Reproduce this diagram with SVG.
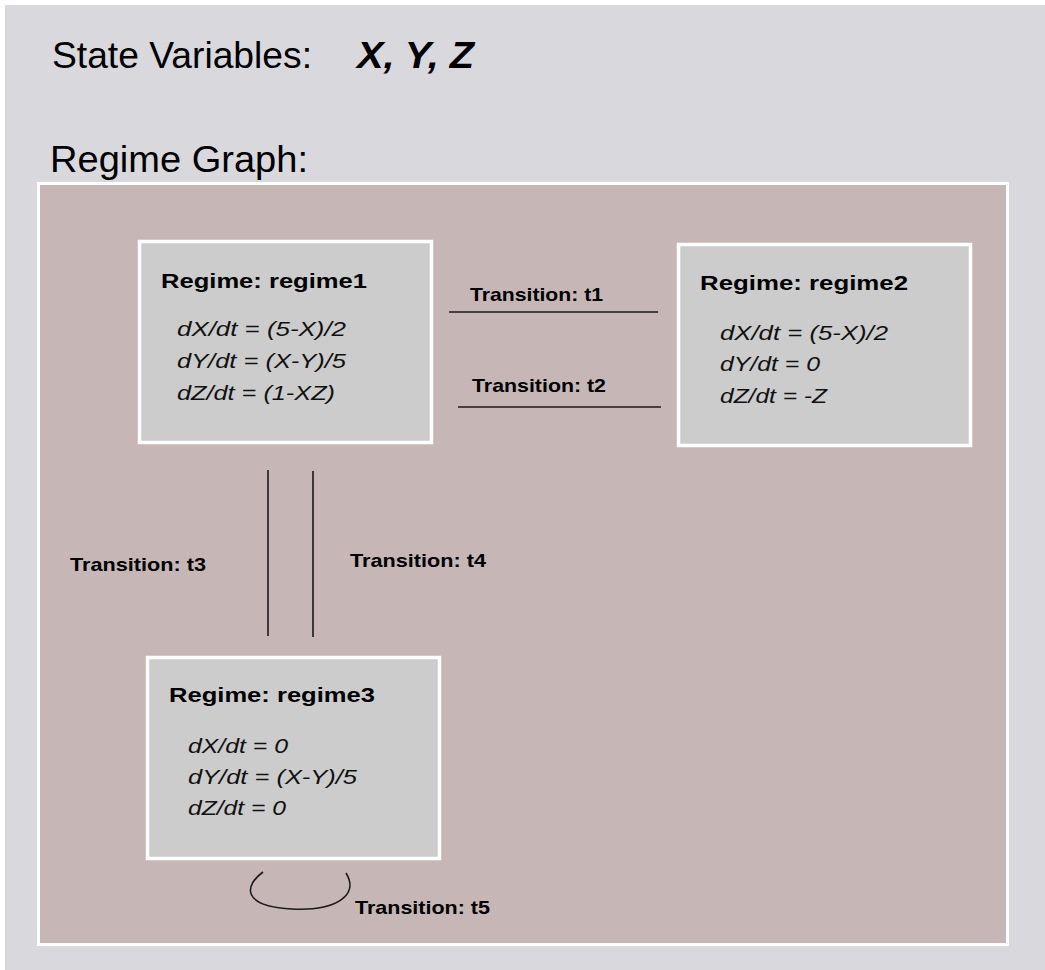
<svg xmlns="http://www.w3.org/2000/svg" width="1045" height="970" viewBox="0 0 1045 970">
<style>
.head{font-family:"Liberation Sans",Arial,sans-serif;font-size:36px;fill:#000}
.vars{font-family:"Liberation Sans",Arial,sans-serif;font-size:36px;font-weight:bold;font-style:italic;fill:#000}
.box{fill:#cccccc;stroke:#ffffff;stroke-width:3.5}
.title{font-family:"Liberation Sans",Arial,sans-serif;font-size:21px;font-weight:bold;fill:#000}
.eq{font-family:"Liberation Sans",Arial,sans-serif;font-size:21px;font-style:italic;fill:#111}
.lbl{font-family:"Liberation Sans",Arial,sans-serif;font-size:18.5px;font-weight:bold;fill:#000}
.edge{stroke:#1a1a1a;stroke-width:1.6;fill:none}
</style>
<rect x="0" y="0" width="1045" height="970" fill="#ffffff"/>
<rect x="5" y="5" width="1040" height="965" fill="#d9d8dd"/>
<text class="head" x="52" y="68" textLength="260" lengthAdjust="spacingAndGlyphs">State Variables:</text>
<text class="vars" x="357" y="68" textLength="117" lengthAdjust="spacingAndGlyphs">X, Y, Z</text>
<text class="head" x="50" y="172" textLength="258" lengthAdjust="spacingAndGlyphs">Regime Graph:</text>
<rect id="regime-graph" x="38.5" y="183.5" width="969" height="761" fill="#c6b7b6" stroke="#ffffff" stroke-width="3"/>

<g id="connectors">
  <line class="edge" x1="449" y1="312" x2="658" y2="312"/>
  <line class="edge" x1="458" y1="407" x2="661" y2="407"/>
  <line class="edge" x1="268" y1="470" x2="268" y2="636"/>
  <line class="edge" x1="313" y1="471" x2="313" y2="637"/>
  <path class="edge" d="M263 872 C245 885 240 906 292 909 C335 911 360 896 346 873"/>
  <text class="lbl" x="470" y="301" textLength="133" lengthAdjust="spacingAndGlyphs">Transition: t1</text>
  <text class="lbl" x="472" y="392" textLength="134" lengthAdjust="spacingAndGlyphs">Transition: t2</text>
  <text class="lbl" x="70" y="571" textLength="136" lengthAdjust="spacingAndGlyphs">Transition: t3</text>
  <text class="lbl" x="350" y="567" textLength="136" lengthAdjust="spacingAndGlyphs">Transition: t4</text>
  <text class="lbl" x="355" y="914" textLength="135" lengthAdjust="spacingAndGlyphs">Transition: t5</text>
</g>

<g id="regime1">
  <rect class="box" x="139.5" y="241.5" width="292" height="201"/>
  <text class="title" x="161" y="288" textLength="206" lengthAdjust="spacingAndGlyphs">Regime: regime1</text>
  <text class="eq" x="177" y="336" textLength="169" lengthAdjust="spacingAndGlyphs">dX/dt = (5-X)/2</text>
  <text class="eq" x="177" y="368" textLength="169" lengthAdjust="spacingAndGlyphs">dY/dt = (X-Y)/5</text>
  <text class="eq" x="177" y="400" textLength="158" lengthAdjust="spacingAndGlyphs">dZ/dt = (1-XZ)</text>
</g>

<g id="regime2">
  <rect class="box" x="678.5" y="244.5" width="292" height="201"/>
  <text class="title" x="700" y="290" textLength="208" lengthAdjust="spacingAndGlyphs">Regime: regime2</text>
  <text class="eq" x="720" y="340" textLength="168" lengthAdjust="spacingAndGlyphs">dX/dt = (5-X)/2</text>
  <text class="eq" x="720" y="371" textLength="100" lengthAdjust="spacingAndGlyphs">dY/dt = 0</text>
  <text class="eq" x="720" y="403" textLength="107" lengthAdjust="spacingAndGlyphs">dZ/dt = -Z</text>
</g>

<g id="regime3">
  <rect class="box" x="147.5" y="657.5" width="292" height="201"/>
  <text class="title" x="169" y="702" textLength="206" lengthAdjust="spacingAndGlyphs">Regime: regime3</text>
  <text class="eq" x="188" y="753" textLength="100" lengthAdjust="spacingAndGlyphs">dX/dt = 0</text>
  <text class="eq" x="188" y="784" textLength="169" lengthAdjust="spacingAndGlyphs">dY/dt = (X-Y)/5</text>
  <text class="eq" x="188" y="815" textLength="98" lengthAdjust="spacingAndGlyphs">dZ/dt = 0</text>
</g>
</svg>
